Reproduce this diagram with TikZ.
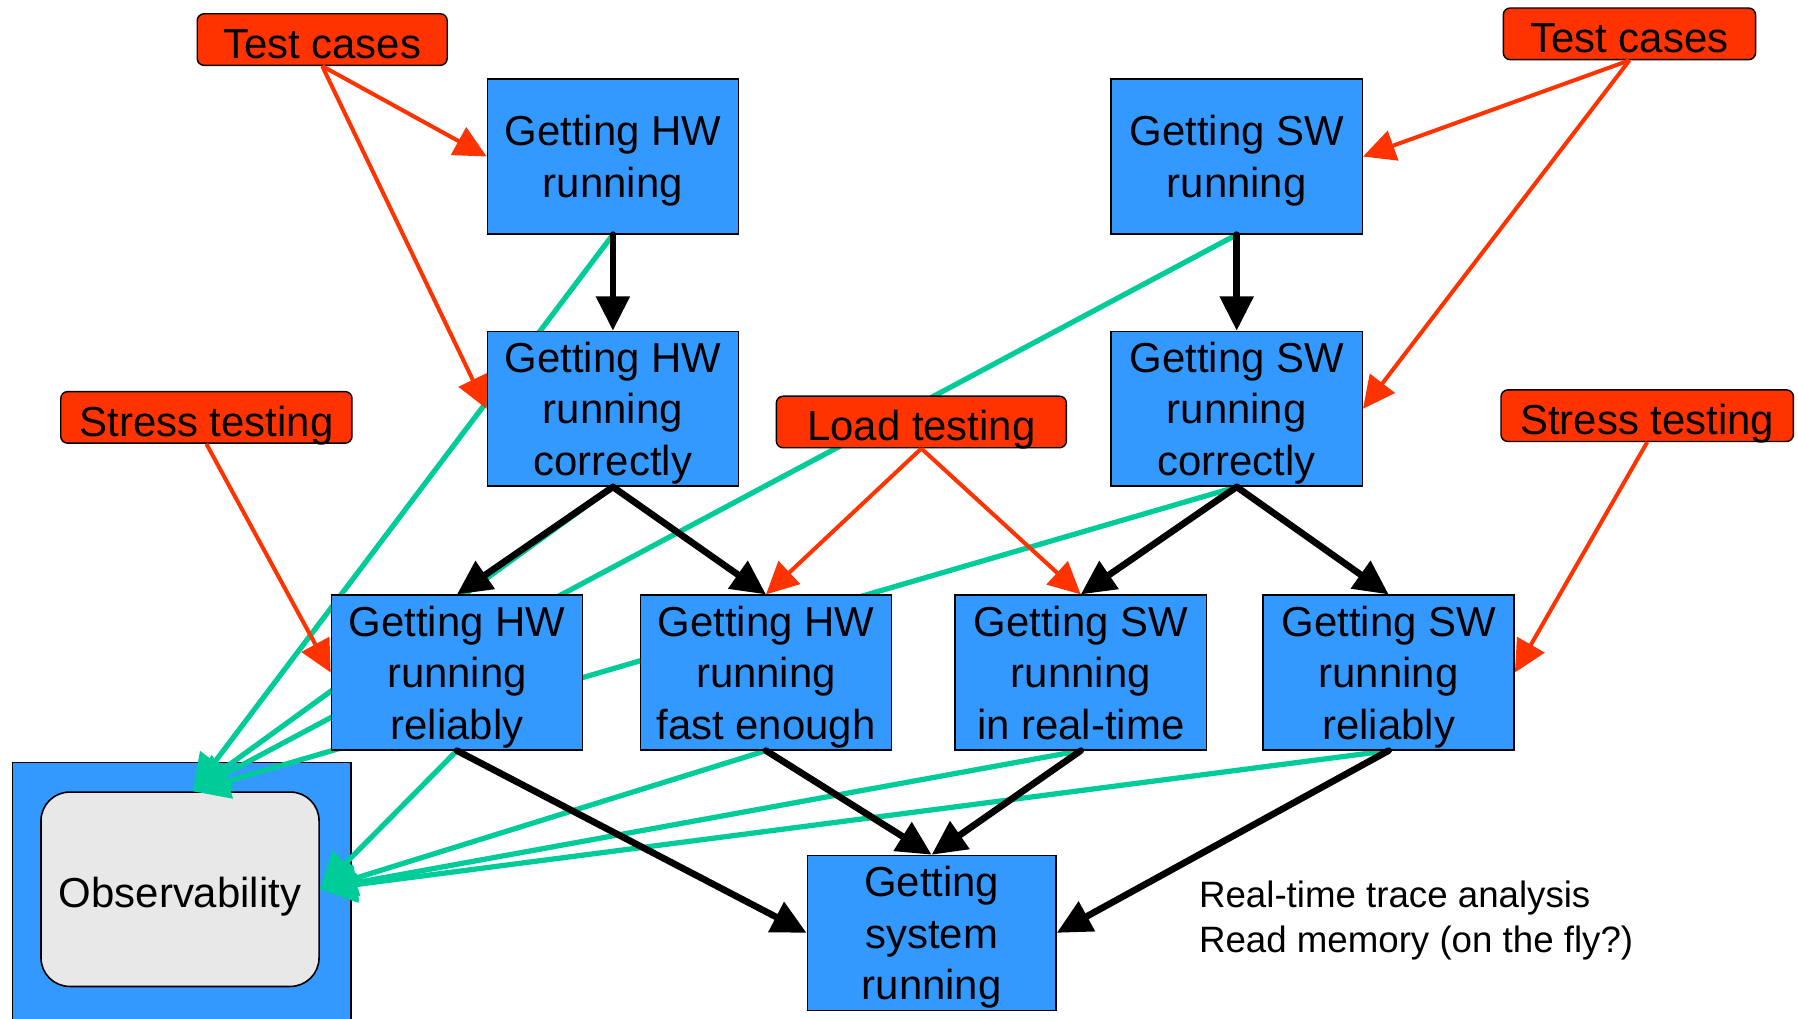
\documentclass[tikz,border=0pt]{standalone}
\usepackage{fontspec}
\setmainfont{Liberation Sans}
\usepackage{tikz}
\usetikzlibrary{arrows.meta, calc}
\definecolor{boxblue}{HTML}{3399FF}
\definecolor{tagred}{HTML}{FF3300}
\definecolor{obsgreen}{HTML}{00CC99}
\definecolor{obsgrey}{HTML}{E8E8E8}
\pgfdeclarelayer{obsback}
\pgfdeclarelayer{wires}
\pgfsetlayers{obsback,wires,main}

\begin{document}
\begin{tikzpicture}[x=0.1mm, y=-0.1mm,
  every node/.style={font=\fontsize{10.4}{12.8}\selectfont, align=center, inner sep=0pt},
  box/.style={draw=black, line width=0.35pt, fill=boxblue, minimum width=21.9mm, minimum height=13.5mm, text depth=-0.45mm},
  tag/.style={draw=black, line width=0.35pt, fill=tagred, rounded corners=0.6mm, minimum height=4.5mm, text height=3.25mm, text depth=0pt},
  flow/.style={line width=1.65pt, line cap=round, -{Triangle[length=3mm, width=2.85mm]}},
  feed/.style={tagred, line width=1pt, -{Triangle[length=2.8mm, width=2.7mm]}},
  watch/.style={obsgreen, line width=1.3pt, -{Triangle[length=3.2mm, width=3.1mm]}}]
  \useasboundingbox (0,0) rectangle (1568,888);

  % Observability frame
  \begin{pgfonlayer}{obsback}
    \node[box, minimum width=29.5mm, minimum height=23mm] (obsframe) at (158.5,780) {};
    \node[draw=black, fill=obsgrey, rounded corners=2.5mm, minimum width=24.25mm, minimum height=16.95mm, text height=3.25mm, text depth=0pt] (obs) at (157,775.5) {Observability};
  \end{pgfonlayer}

  % Steps
  \node[box] (hwrun) at (534.5,136.5) {Getting HW\\running};
  \node[box] (swrun) at (1078.5,136.5) {Getting SW\\running};
  \node[box] (hwcorr) at (534.5,356.5) {Getting HW\\running\\correctly};
  \node[box] (swcorr) at (1078.5,356.5) {Getting SW\\running\\correctly};
  \node[box] (hwrel) at (398.5,586.5) {Getting HW\\running\\reliably};
  \node[box] (hwfast) at (668,586.5) {Getting HW\\running\\fast enough};
  \node[box] (swrt) at (942.5,586.5) {Getting SW\\running\\in real-time};
  \node[box] (swrel) at (1211,586.5) {Getting SW\\running\\reliably};
  \node[box, minimum width=21.7mm] (sys) at (812.5,813.5) {Getting\\system\\running};

  % Test inputs
  \node[tag, minimum width=21.8mm] (tcleft) at (281,34.5) {Test cases};
  \node[tag, minimum width=22mm] (tcright) at (1421,29.5) {Test cases};
  \node[tag, minimum width=25.4mm] (stressleft) at (180,364) {Stress testing};
  \node[tag, minimum width=25.3mm] (load) at (803.5,368) {Load testing};
  \node[tag, minimum width=25.5mm] (stressright) at (1436.5,362.5) {Stress testing};

  % Note
  \node[font=\fontsize{9.1}{11.1}\selectfont, align=left, anchor=west] (note) at (1045,802.5) {Real-time trace analysis\\Read memory (on the fly?)};

  % Observability links
  \begin{pgfonlayer}{wires}
    \coordinate (obstop) at ($(obs.north)+(11,0)$);
    \foreach \src in {hwrun, hwcorr, swrun, swcorr}
      \draw[watch] (\src.south) -- (obstop);
    \foreach \src in {hwrel, hwfast, swrt, swrel}
      \draw[watch] (\src.south) -- (obs.east);
  \end{pgfonlayer}

  % Flow
  \foreach \a/\b in {hwrun/hwcorr, swrun/swcorr, hwcorr/hwrel, hwcorr/hwfast, swcorr/swrt, swcorr/swrel, hwfast/sys, swrt/sys}
    \draw[flow] (\a.south) -- (\b.north);
  \draw[flow] (hwrel.south) -- (sys.west);
  \draw[flow] (swrel.south) -- (sys.east);

  % Testing
  \draw[feed] (tcleft.south) -- (hwrun.west);
  \draw[feed] (tcleft.south) -- (hwcorr.west);
  \draw[feed] (tcright.south) -- (swrun.east);
  \draw[feed] (tcright.south) -- (swcorr.east);
  \draw[feed] (stressleft.south) -- (hwrel.west);
  \draw[feed] (load.south) -- (hwfast.north);
  \draw[feed] (load.south) -- (swrt.north);
  \draw[feed] (stressright.south) -- (swrel.east);
\end{tikzpicture}
\end{document}
